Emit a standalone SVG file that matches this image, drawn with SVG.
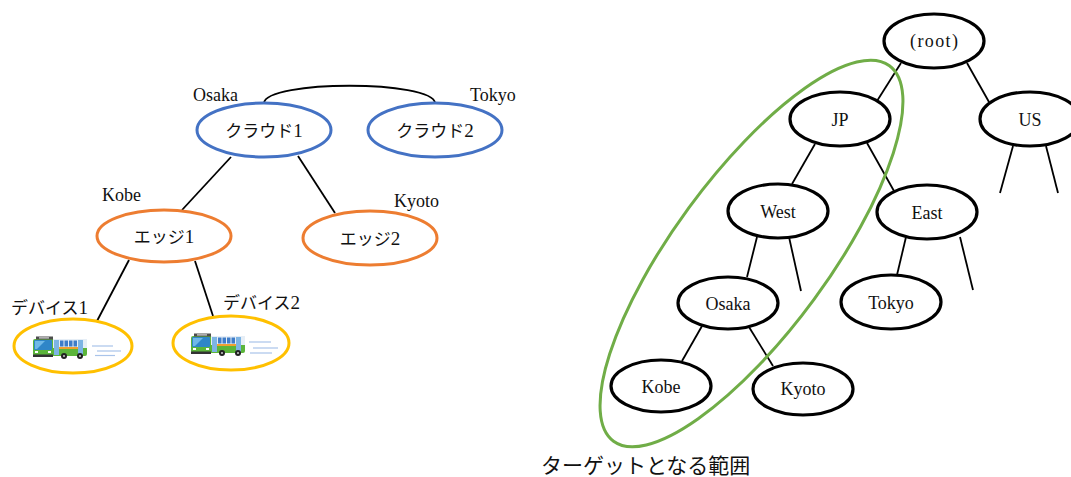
<svg xmlns="http://www.w3.org/2000/svg" xmlns:xlink="http://www.w3.org/1999/xlink" width="1071" height="477" viewBox="0 0 1071 477">
  <style>
    .bg { fill: #ffffff; }
    .lbl { font-family: "Liberation Serif", "Noto Sans CJK JP", serif; font-size: 18px; fill: #111; }
    .jp { font-family: "Liberation Serif", "Noto Sans CJK JP", serif; font-size: 17px; fill: #111; }
    .num { font-size: 19px; }
    .mid { text-anchor: middle; }
    .cloud { fill: #fff; stroke: #4472C4; stroke-width: 3; }
    .edge { fill: #fff; stroke: #ED7D31; stroke-width: 3; }
    .device { fill: #fff; stroke: #FFC000; stroke-width: 3; }
    .tree { fill: #fff; stroke: #000; stroke-width: 3.2; }
    .link { fill: none; stroke: #000; stroke-width: 1.8; }
    .speed { stroke: #A9C4EA; stroke-width: 1.2; }
    .range { fill: none; stroke: #70AD47; stroke-width: 3; }
  </style>
  <defs>
    <!-- small green city bus, front to the left -->
    <g id="bus">
      <rect x="0" y="3" width="54" height="17" rx="2" fill="#5BB53A"/>
      <rect x="3" y="0.5" width="17" height="3" fill="#4d4d4d"/>
      <rect x="6" y="1.3" width="10" height="1.2" fill="#d9d9d9"/>
      <rect x="1" y="4" width="18" height="10" rx="1" fill="#2F86C8"/>
      <path d="M2,5 L12,5 L4,13 L2,13 Z" fill="#6FB8E8"/>
      <rect x="20" y="3" width="34" height="9" fill="#E6EEF6"/>
      <rect x="21" y="4" width="5" height="15" fill="#7DB4E4"/>
      <rect x="27" y="4.5" width="3.5" height="6" fill="#3E7CC8"/>
      <rect x="31.5" y="4.5" width="3.5" height="6" fill="#3E7CC8"/>
      <rect x="36" y="4.5" width="3.5" height="6" fill="#3E7CC8"/>
      <rect x="40.5" y="4.5" width="3.5" height="6" fill="#3E7CC8"/>
      <rect x="45" y="4" width="5" height="15" fill="#7DB4E4"/>
      <rect x="26" y="11" width="19" height="2" fill="#F0A030"/>
      <rect x="2" y="15" width="3" height="2" fill="#fff"/>
      <rect x="15" y="15" width="3" height="2" fill="#fff"/>
      <rect x="0" y="18.5" width="20" height="2.5" fill="#333"/>
      <circle cx="31" cy="20" r="3" fill="#222"/>
      <circle cx="31" cy="20" r="1" fill="#ccc"/>
      <circle cx="47" cy="20" r="3" fill="#222"/>
      <circle cx="47" cy="20" r="1" fill="#ccc"/>
    </g>
  </defs>

  <rect class="bg" x="0" y="0" width="1071" height="477"/>

  <!-- connectors -->
  <g id="connectors">
    <!-- cloud / edge / device hierarchy -->
    <path class="link" d="M264,103 C266,80 433,80 435,103"/>
    <line class="link" x1="231" y1="157" x2="182" y2="210"/>
    <line class="link" x1="298" y1="156" x2="335" y2="213"/>
    <line class="link" x1="129" y1="260" x2="97" y2="321"/>
    <line class="link" x1="195" y1="261" x2="213" y2="316"/>
    <!-- region tree -->
    <line class="link" x1="901" y1="63" x2="877" y2="101"/>
    <line class="link" x1="967" y1="63" x2="989" y2="102"/>
    <line class="link" x1="815" y1="144" x2="792" y2="184"/>
    <line class="link" x1="867" y1="143" x2="894" y2="191"/>
    <line class="link" x1="1013" y1="146" x2="1000" y2="193"/>
    <line class="link" x1="1046" y1="146" x2="1058" y2="193"/>
    <line class="link" x1="757" y1="237" x2="747" y2="277"/>
    <line class="link" x1="789" y1="237" x2="801" y2="291"/>
    <line class="link" x1="906" y1="237" x2="897" y2="275"/>
    <line class="link" x1="960" y1="237" x2="973" y2="290"/>
    <line class="link" x1="702" y1="326" x2="682" y2="361"/>
    <line class="link" x1="749" y1="327" x2="773" y2="366"/>
  </g>

  <!-- left: cloud, edge and device nodes -->
  <g id="cloud1">
    <ellipse class="cloud" cx="264" cy="130" rx="67" ry="27"/>
    <text class="jp mid" x="264" y="137">クラウド<tspan class="num">1</tspan></text>
    <text class="lbl" x="193" y="101">Osaka</text>
  </g>
  <g id="cloud2">
    <ellipse class="cloud" cx="435" cy="130" rx="67" ry="27"/>
    <text class="jp mid" x="435" y="137">クラウド<tspan class="num">2</tspan></text>
    <text class="lbl" x="470" y="101">Tokyo</text>
  </g>
  <g id="edge1">
    <ellipse class="edge" cx="164" cy="236" rx="67" ry="26"/>
    <text class="jp mid" x="164" y="243">エッジ<tspan class="num">1</tspan></text>
    <text class="lbl" x="102" y="201">Kobe</text>
  </g>
  <g id="edge2">
    <ellipse class="edge" cx="370" cy="238" rx="67" ry="27"/>
    <text class="jp mid" x="370" y="245">エッジ<tspan class="num">2</tspan></text>
    <text class="lbl" x="394" y="207">Kyoto</text>
  </g>
  <g id="device1">
    <ellipse class="device" cx="73" cy="346" rx="59" ry="27"/>
    <use xlink:href="#bus" href="#bus" x="33" y="336"/>
    <line class="speed" x1="92" y1="346" x2="113" y2="346"/>
    <line class="speed" x1="97" y1="351" x2="121" y2="351"/>
    <line class="speed" x1="95" y1="355.5" x2="115" y2="355.5"/>
    <text class="jp" x="11" y="314">デバイス<tspan class="num">1</tspan></text>
  </g>
  <g id="device2">
    <ellipse class="device" cx="231" cy="343" rx="58" ry="27"/>
    <use xlink:href="#bus" href="#bus" x="191" y="333"/>
    <line class="speed" x1="249" y1="342" x2="271" y2="342"/>
    <line class="speed" x1="253" y1="348" x2="278" y2="348"/>
    <line class="speed" x1="250" y1="353" x2="272" y2="353"/>
    <text class="jp" x="223" y="309">デバイス<tspan class="num">2</tspan></text>
  </g>

  <!-- right: region tree -->
  <g id="root">
    <ellipse class="tree" cx="934" cy="41" rx="50" ry="27"/>
    <text class="lbl mid" x="934" y="47" textLength="48" lengthAdjust="spacing">(root)</text>
  </g>
  <g id="jp">
    <ellipse class="tree" cx="840" cy="119" rx="50" ry="27"/>
    <text class="lbl mid" x="840" y="126">JP</text>
  </g>
  <g id="us">
    <ellipse class="tree" cx="1030" cy="119" rx="50" ry="27"/>
    <text class="lbl mid" x="1030" y="126">US</text>
  </g>
  <g id="west">
    <ellipse class="tree" cx="778" cy="211" rx="50" ry="27"/>
    <text class="lbl mid" x="778" y="218">West</text>
  </g>
  <g id="east">
    <ellipse class="tree" cx="927" cy="212" rx="50" ry="27"/>
    <text class="lbl mid" x="927" y="219">East</text>
  </g>
  <g id="osaka">
    <ellipse class="tree" cx="728" cy="303" rx="50" ry="26"/>
    <text class="lbl mid" x="728" y="310">Osaka</text>
  </g>
  <g id="tokyo">
    <ellipse class="tree" cx="891" cy="302" rx="50" ry="27"/>
    <text class="lbl mid" x="891" y="309">Tokyo</text>
  </g>
  <g id="kobe">
    <ellipse class="tree" cx="661" cy="386" rx="50" ry="26"/>
    <text class="lbl mid" x="661" y="393">Kobe</text>
  </g>
  <g id="kyoto">
    <ellipse class="tree" cx="803" cy="389" rx="50" ry="26"/>
    <text class="lbl mid" x="803" y="395">Kyoto</text>
  </g>

  <!-- target range outline and caption -->
  <g id="target-range">
    <ellipse class="range" cx="751.5" cy="253.5" rx="233" ry="77.6" transform="rotate(-53.7 751.5 253.5)"/>
    <text class="jp" x="541" y="473" style="font-size:21px">ターゲットとなる範囲</text>
  </g>
</svg>
